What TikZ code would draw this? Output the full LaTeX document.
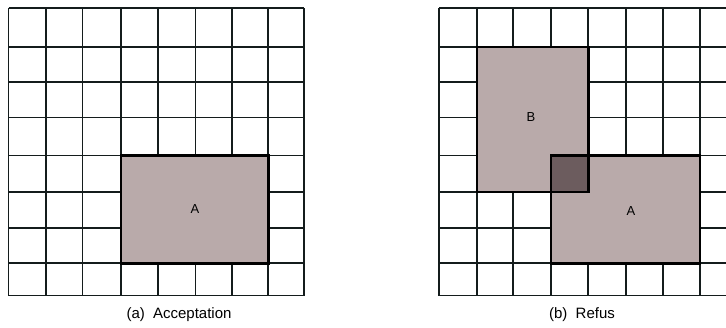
\documentclass[tikz,border=0pt]{standalone}
\usepackage{fontspec}
\setmainfont{Liberation Sans}
\definecolor{regionfill}{RGB}{185,170,170}
\definecolor{overlapfill}{RGB}{108,92,94}
\definecolor{gridcol}{RGB}{20,28,28}
\begin{document}
\begin{tikzpicture}[x=1pt,y=-1pt,
  gridline/.style={line width=1.7pt,draw=gridcol},
  regionfillstyle/.style={fill=regionfill},
  overlapstyle/.style={fill=overlapfill},
  regionborder/.style={draw=black,line width=2.4pt,line join=miter},
  regionlabel/.style={font=\fontsize{13}{15}\selectfont,inner sep=0pt},
  caption/.style={font=\fontsize{15}{18}\selectfont,inner sep=0pt}]
\useasboundingbox (0,0) rectangle (726,327);
\fill[white] (0,0) rectangle (726,327);
% ---------- left grid ----------
\foreach \x in {8.5,45.7,82.5,120.7,158,195.5,232.3,268.3,304}
  \draw[gridline] (\x,8.3) -- (\x,295.5);
\foreach \y in {8.3,47,82,117.5,155.5,191.7,228,263.3,295.5}
  \draw[gridline] (8.5,\y) -- (304,\y);
\fill[regionfillstyle] (120.7,155.5) rectangle (268.3,263.3);
\draw[regionborder] (120.7,155.5) rectangle (268.3,263.3);
\node[regionlabel] (labA1) at (195,209.5) {A};
\node[caption] (capa) at (179,315) {(a)\hspace{0.55em}Acceptation};
% ---------- right grid ----------
\begin{scope}
\clip (430,0) rectangle (726,327);
\foreach \x in {439.3,476.7,513.3,550.7,588.3,625.7,662.7,700,737}
  \draw[gridline] (\x,8.3) -- (\x,295.5);
\foreach \y in {8.3,47,82,117.5,155.5,191.7,228,263.3,295.5}
  \draw[gridline] (439.3,\y) -- (737,\y);
\fill[regionfillstyle] (476.7,47) rectangle (588.3,191.7);
\fill[regionfillstyle] (550.7,155.5) rectangle (700,263.3);
\fill[overlapstyle] (550.7,155.5) rectangle (588.3,191.7);
\draw[regionborder] (476.7,47) rectangle (588.3,191.7);
\draw[regionborder] (550.7,155.5) rectangle (700,263.3);
\draw[regionborder] (550.7,155.5) rectangle (588.3,191.7);
\end{scope}
\node[regionlabel] (labB) at (531,117) {B};
\node[regionlabel] (labA2) at (631,211.5) {A};
\node[caption] (capb) at (582,315) {(b)\hspace{0.55em}Refus};
\end{tikzpicture}
\end{document}
